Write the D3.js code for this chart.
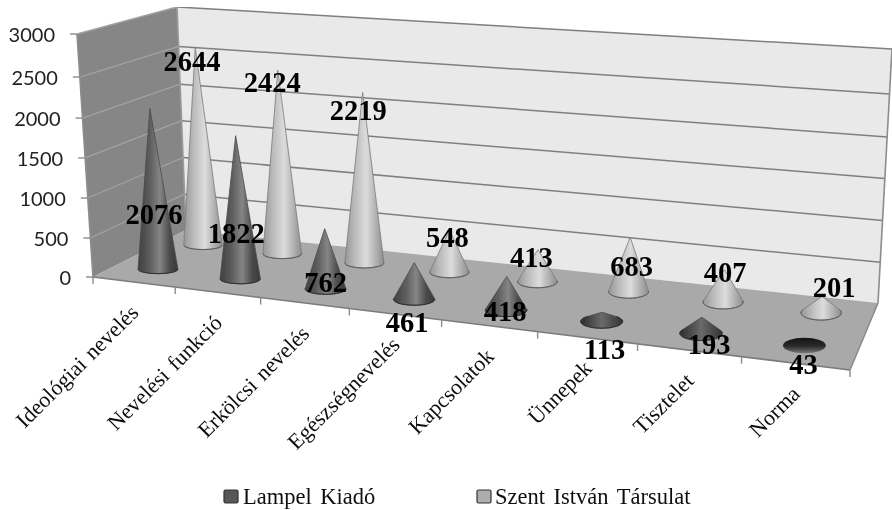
<!DOCTYPE html>
<html><head><meta charset="utf-8">
<script src="https://cdn.jsdelivr.net/npm/d3@7"></script>
<style>html,body{margin:0;background:#fff}svg{display:block}</style></head>
<body><svg id="c" width="892" height="510"></svg>
<script>
const categories=["Ideológiai nevelés","Nevelési funkció","Erkölcsi nevelés","Egészségnevelés","Kapcsolatok","Ünnepek","Tisztelet","Norma"];
const lampel=[2076,1822,762,461,418,113,193,43];
const szent=[2644,2424,2219,548,413,683,407,201];
const seriesNames=["Lampel Kiadó","Szent István Társulat"];
const valueTicks=[0,500,1000,1500,2000,2500,3000];

// layout
const FL=[93,277],FR=[850,370],BR=[878,303],BL=[186,230];
const dFL=[-16,-243],dBL=[-9,-223],dBR=[14,-254],dFR=[22,-275];
const tickFractions=[0,.1605,.325,.49,.654,.823,1];
const lampelLabelNudge=[[-4,-55],[-4,-46],[0,-7],[-7,23],[-1,1],[3,28],[8,11],[-1,19]];
const szentLabelNudge=[[-11,-184],[-10,-172],[-6,-153],[-2,-35],[-6,-25],[3,-26],[2,-30],[13,-26]];
const coneHeightFactor=.985;

const sx=FL[0]-FR[0]+BR[0]-BL[0], sy=FL[1]-FR[1]+BR[1]-BL[1];
const d1x=FR[0]-BR[0],d1y=FR[1]-BR[1],d2x=BL[0]-BR[0],d2y=BL[1]-BR[1];
const den=d1x*d2y-d2x*d1y;
const gg=(sx*d2y-d2x*sy)/den, hh=(d1x*sy-sx*d1y)/den;
const A=FR[0]-FL[0]+gg*FR[0],B=BL[0]-FL[0]+hh*BL[0],Cc=FL[0];
const D=FR[1]-FL[1]+gg*FR[1],E=BL[1]-FL[1]+hh*BL[1],F=FL[1];
function floor(u0,v){const u=u0+.05*u0*(1-u0),w=gg*u+hh*v+1;return [(A*u+B*v+Cc)/w,(D*u+E*v+F)/w];}
const y=d3.scaleLinear().domain(valueTicks).range(tickFractions);
function lerp(a,b,t){return a+(b-a)*t;}
function disp(u,v){return [0,1].map(k=>lerp(lerp(dFL[k],dFR[k],u),lerp(dBL[k],dBR[k],u),v));}
function pt(u,v,val){const p=floor(u,v),d=disp(u,v),t=y(val);return [p[0]+d[0]*t,p[1]+d[1]*t];}
const x=d3.scaleBand().domain(categories).range([0,1]);
const line=d3.line();
const svg=d3.select("#c");
const defs=svg.append("defs");
defs.append("filter").attr("id","soft").attr("x",0).attr("y",0).attr("width",1).attr("height",1)
  .append("feGaussianBlur").attr("stdDeviation",0.45);
function grad(id,stops,vertical){
  const g=defs.append("linearGradient").attr("id",id).attr("x1",0).attr("y1",0).attr("x2",vertical?0:1).attr("y2",vertical?1:0);
  stops.forEach(s=>g.append("stop").attr("offset",s[0]).attr("stop-color",s[1]));
}
grad("gDark",[[0,"#3f3f3f"],[.3,"#5e5e5e"],[.55,"#858585"],[.8,"#4a4a4a"],[1,"#3a3a3a"]]);
grad("gDarkLow",[[0,"#2c2c2c"],[.5,"#6a6a6a"],[1,"#333"]]);
grad("gLight",[[0,"#969696"],[.25,"#bababa"],[.55,"#dcdcdc"],[.8,"#b0b0b0"],[1,"#8c8c8c"]]);
grad("gDarkFlat",[[0,"#141414"],[.55,"#2a2a2a"],[1,"#777"]],true);

const root=svg.append("g").attr("filter","url(#soft)");
function poly(pts,fill){root.append("path").attr("d",line(pts)+"Z").attr("fill",fill);}
// walls and floor
poly([pt(0,1,3000),pt(1,1,3000),pt(1,1,0),pt(0,1,0)],"#e9e9e9");
poly([pt(0,0,3000),pt(0,1,3000),pt(0,1,0),pt(0,0,0)],"#868686");
poly([FL,FR,BR,BL],"#a9a9a9");
// gridlines
valueTicks.forEach(t=>{
  if(t>0)root.append("path").attr("d",line([pt(0,1,t),pt(1,1,t)])).attr("stroke","#7f7f7f").attr("stroke-width",1.5).attr("fill","none");
  if(t>0)root.append("path").attr("d",line([pt(0,0,t),pt(0,1,t)])).attr("stroke","#a2a2a2").attr("stroke-width",1.3).attr("fill","none");
});
const edge=(a,b,c)=>root.append("path").attr("d",line([a,b])).attr("stroke",c||"#8c8c8c").attr("stroke-width",1.6).attr("fill","none");
edge(pt(0,0,3000),FL);edge(pt(1,1,3000),BR);edge(pt(0,1,3000),BL,"#9a9a9a");
edge(FL,FR,"#7b7b7b");edge(FR,BR,"#8c8c8c");
// value axis
valueTicks.forEach(t=>{
  const p=pt(0,0,t);
  root.append("path").attr("d",line([[p[0]-7,p[1]],p])).attr("stroke","#8c8c8c").attr("stroke-width",1.4);
  root.append("text").attr("x",p[0]-22).attr("y",p[1]+1).attr("dy","0.35em").attr("text-anchor","end")
    .attr("font-family","Lato").attr("font-size",20).attr("fill","#222").text(t);
});
// category ticks
d3.range(categories.length+1).forEach(i=>{
  const p=floor(i/categories.length,0);
  root.append("path").attr("d",line([p,[p[0],p[1]+7]])).attr("stroke","#8c8c8c").attr("stroke-width",1.4);
});
categories.forEach(c=>{
  const p=floor(x(c)+x.bandwidth()/2,0);
  root.append("text").attr("transform",`translate(${p[0]+6},${p[1]+32}) rotate(-45)`).attr("text-anchor","end")
    .attr("font-family","Liberation Serif").attr("font-size",22).attr("word-spacing",2).attr("fill","#111").text(c);
});
// cones
const ryK=d3.scaleLinear().domain([0,1]).range([.22,.37]);
const rxK=d3.scaleLinear().domain([0,1]).range([.25,.2]);
function cone(c,val,v,isDark){
  const u=x(c)+x.bandwidth()/2;
  const base=floor(u,v),tip=pt(u,v,val*coneHeightFactor);
  const a=floor(u-x.bandwidth()/2,v),b=floor(u+x.bandwidth()/2,v);
  const rx=rxK(u)*(b[0]-a[0]),ry=rx*ryK(u);
  const nx=(tip[0]-base[0])/rx,ny=(tip[1]-base[1])/ry,d=Math.hypot(nx,ny);
  const g=root.append("g");
  if(d<=1.2){
    g.append("ellipse").attr("cx",base[0]).attr("cy",base[1]).attr("rx",rx).attr("ry",ry)
      .attr("fill",isDark?"url(#gDarkFlat)":"url(#gLight)");
  }else{
    const ang=Math.atan2(ny,nx),be=Math.acos(1/d);
    const p1=[base[0]+rx*Math.cos(ang-be),base[1]+ry*Math.sin(ang-be)];
    const p2=[base[0]+rx*Math.cos(ang+be),base[1]+ry*Math.sin(ang+be)];
    const [L,R]=p1[0]<p2[0]?[p1,p2]:[p2,p1];
    const fill=isDark?(d<4?"url(#gDarkLow)":"url(#gDark)"):"url(#gLight)";
    g.append("path").attr("d",`M${tip}L${L}A${rx} ${ry} 0 1 0 ${R}Z`)
      .attr("fill",fill).attr("stroke",isDark?"#4a4a4a":"#7a7a7a").attr("stroke-width",.8);
    g.append("path").attr("d",`M${L}A${rx} ${ry} 0 1 0 ${R}`).attr("fill","none")
      .attr("stroke",isDark?"#2e2e2e":"#5c5c5c").attr("stroke-width",1);
  }
  return base;
}
const szentBases=categories.map((c,i)=>cone(c,szent[i],.75,false));
const lampelBases=categories.map((c,i)=>cone(c,lampel[i],.25,true));
// data labels
function dataLabel(base,n,val){
  root.append("text").attr("x",base[0]+n[0]).attr("y",base[1]+n[1]).attr("dy","0.35em").attr("text-anchor","middle")
    .attr("font-family","Liberation Serif").attr("font-weight","bold").attr("font-size",28.5).attr("fill","#000").text(val);
}
szent.forEach((s,i)=>dataLabel(szentBases[i],szentLabelNudge[i],s));
lampel.forEach((s,i)=>dataLabel(lampelBases[i],lampelLabelNudge[i],s));
// legend
[[224,"#585858"],[477,"#adadad"]].forEach((l,i)=>{
  root.append("rect").attr("x",l[0]).attr("y",490).attr("width",14).attr("height",13).attr("rx",1.5)
    .attr("fill",l[1]).attr("stroke","#333").attr("stroke-width",1.2);
  root.append("text").attr("x",i?495:243).attr("y",504).attr("font-family","Liberation Serif").attr("font-size",22.5)
    .attr("word-spacing",3).attr("fill","#111").text(seriesNames[i]);
});
</script></body></html>
